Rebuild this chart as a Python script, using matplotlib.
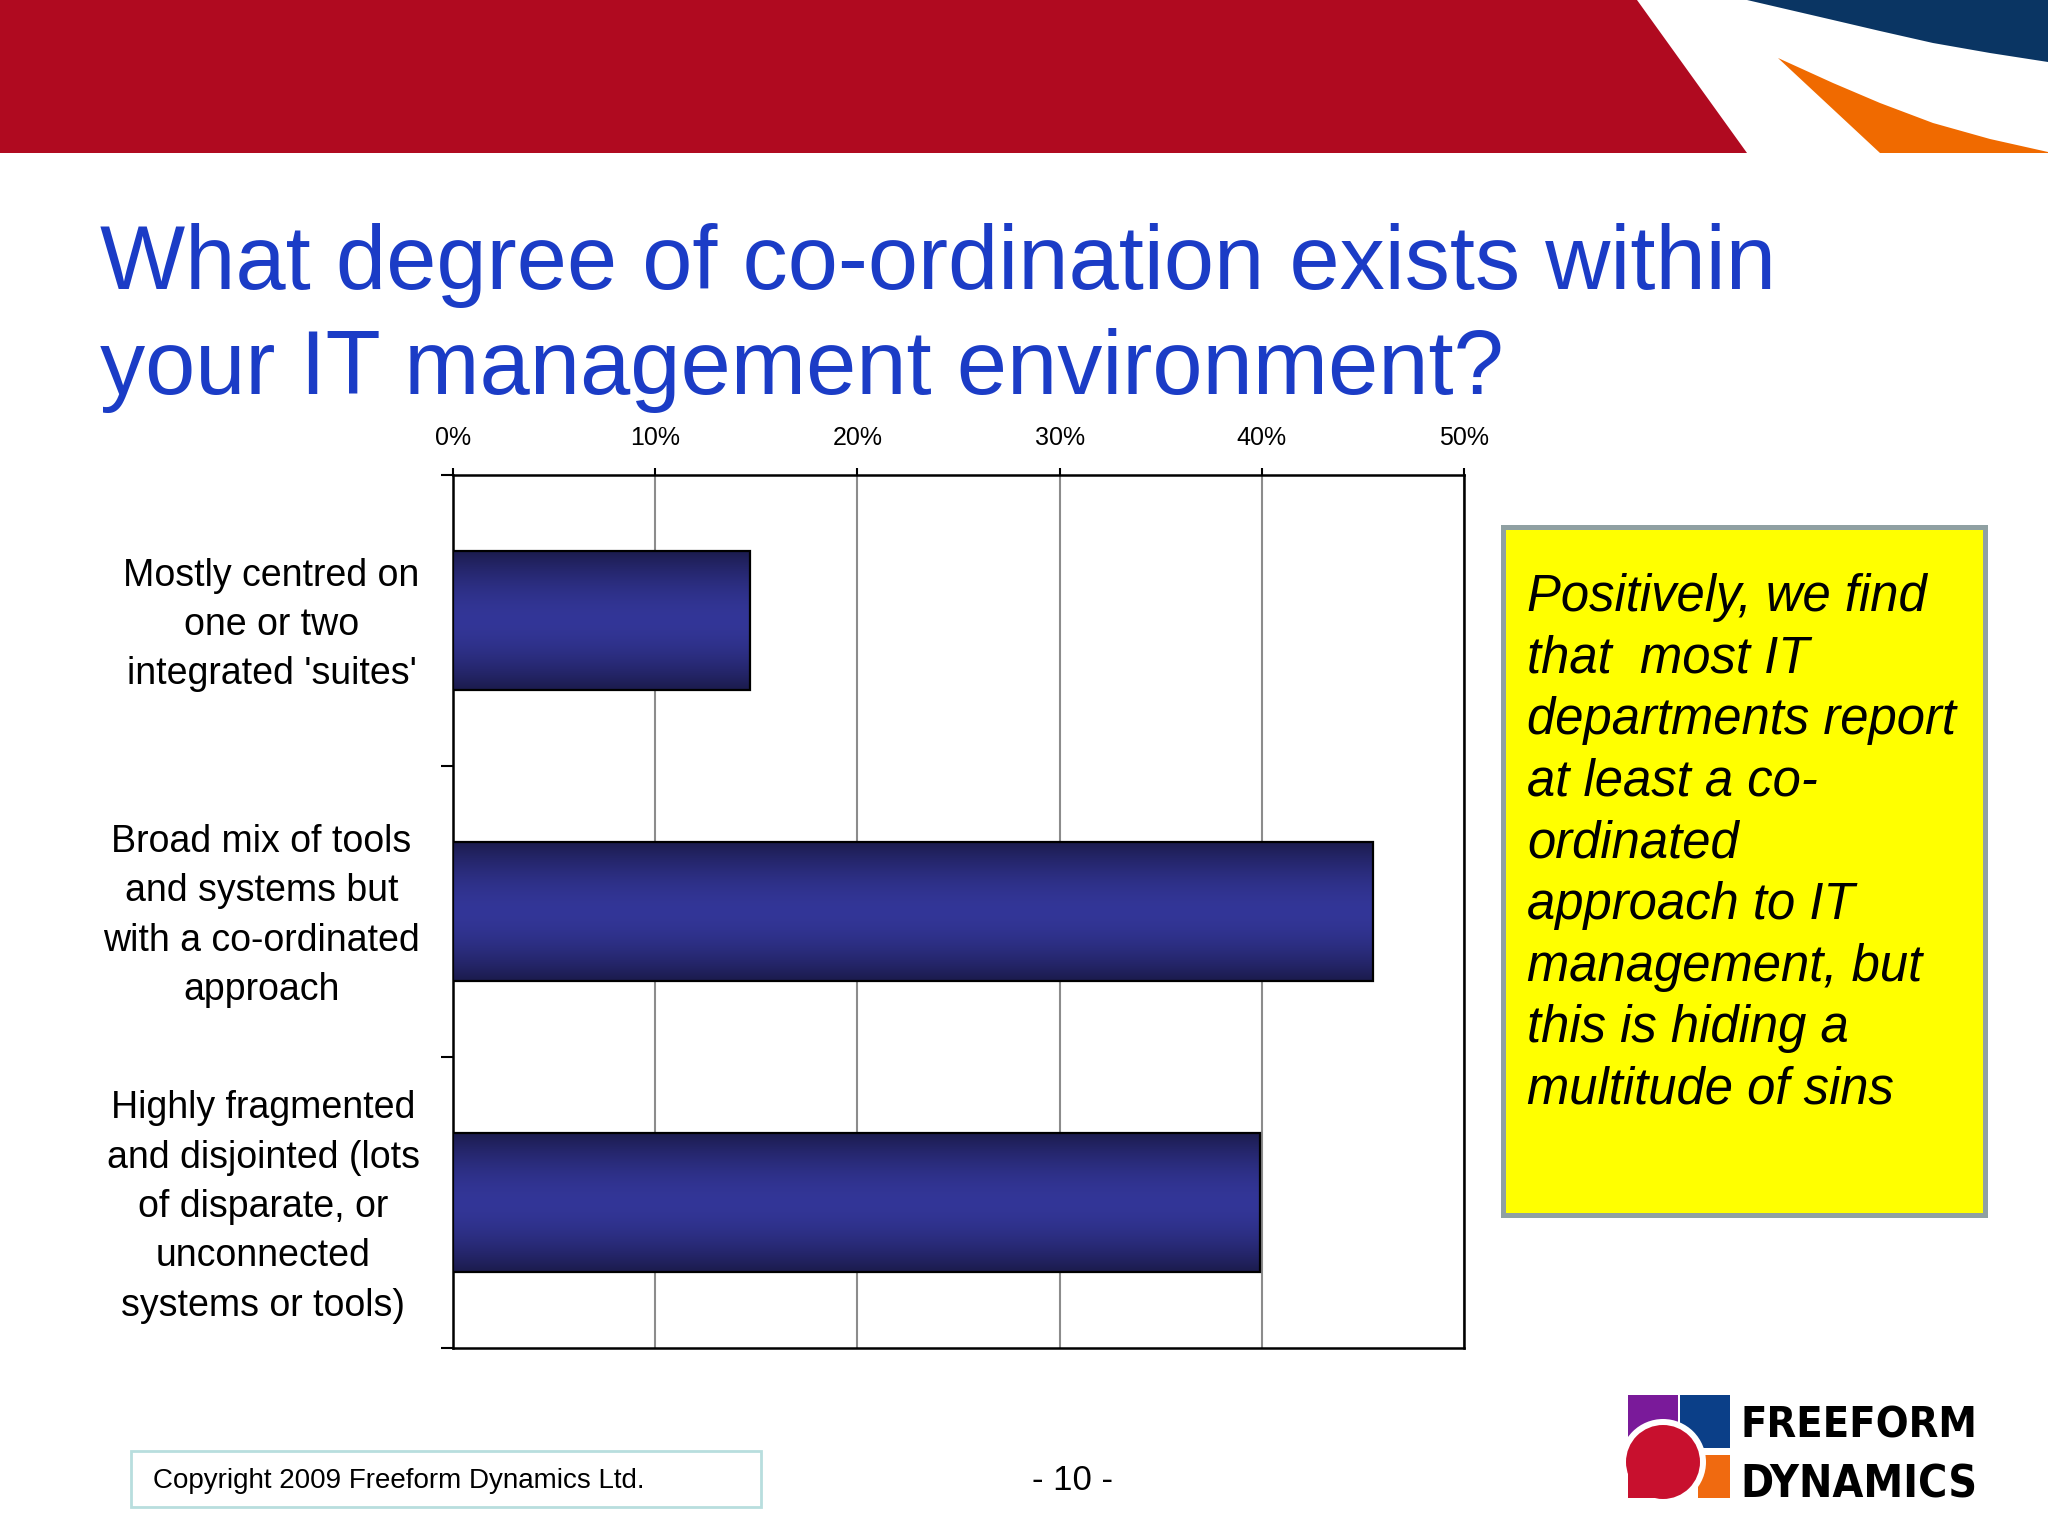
import numpy as np
import matplotlib
matplotlib.use("Agg")
import matplotlib.pyplot as plt
from matplotlib.patches import Polygon, Rectangle, Circle
from matplotlib.transforms import ScaledTranslation
from matplotlib import font_manager

# ---------------- data ----------------
categories = [
    "Mostly centred on\none or two\nintegrated 'suites'",
    "Broad mix of tools\nand systems but\nwith a co-ordinated\napproach",
    "Highly fragmented\nand disjointed (lots\nof disparate, or\nunconnected\nsystems or tools)",
]
values = [14.7, 45.5, 39.9]
xticks = [0, 10, 20, 30, 40, 50]
xtick_labels = ["0%", "10%", "20%", "30%", "40%", "50%"]
title = "What degree of co-ordination exists within\nyour IT management environment?"
note = ("Positively, we find\nthat  most IT\ndepartments report\nat least a co-\nordinated\n"
        "approach to IT\nmanagement, but\nthis is hiding a\nmultitude of sins")
copyright_text = "Copyright 2009 Freeform Dynamics Ltd."
page_text = "- 10 -"

plt.rcParams['font.family'] = ['Liberation Sans', 'DejaVu Sans']

W, H = 2048, 1536
fig = plt.figure(figsize=(20.48, 15.36), dpi=100)
fig.patch.set_facecolor('white')


def P(x, y):
    return (x / W, 1 - y / H)


def poly(pts, color, z=1):
    fig.patches.append(Polygon([P(*p) for p in pts], closed=True, transform=fig.transFigure,
                               facecolor=color, edgecolor='none', zorder=z))


# ---------------- banner ----------------
poly([(0, 0), (1637, 0), (1747, 153), (0, 153)], '#b00a20')
poly([(1747, 0), (1790, 10), (1833, 20), (1880, 31), (1933, 43), (1990, 53), (2048, 62), (2048, 0)], '#0a3563')
poly([(1778, 58), (1833, 83), (1880, 103), (1933, 123), (1990, 139), (2048, 152), (2048, 153), (1880, 153)], '#f06a00')

# ---------------- chart ----------------
ax = fig.add_axes([453 / W, 1 - 1348 / H, (1464 - 453) / W, (1348 - 475) / H])
ypos = np.arange(len(categories))
bars = ax.barh(ypos, values, height=0.48, facecolor='none', edgecolor='black', linewidth=1.6, zorder=3)

dark = np.array([0x1b, 0x1b, 0x4c]) / 255
light = np.array([0x33, 0x36, 0x98]) / 255
t = np.linspace(0, 1, 256)
d = np.abs(t - 0.5) * 2
mix = d ** 1.7
grad = (light[None, :] * (1 - mix[:, None]) + dark[None, :] * mix[:, None])[:, None, :]
for b in bars:
    im = ax.imshow(grad, extent=[b.get_x(), b.get_x() + b.get_width(),
                                 b.get_y() + b.get_height(), b.get_y()],
                   aspect='auto', zorder=2.8, interpolation='bilinear')
    im.set_clip_path(b)

ax.set_xlim(0, 50)
ax.set_ylim(2.5, -0.5)
ax.xaxis.tick_top()
ax.set_xticks(xticks)
ax.set_xticklabels(xtick_labels)
ax.tick_params(axis='x', which='major', top=True, bottom=False, length=5, width=1.5,
               direction='out', labelsize=18, pad=13, colors='black')
ax.grid(axis='x', color='#8c8c8c', linewidth=1.5, zorder=1)
ax.set_axisbelow(True)

ax.set_yticks(ypos)
ax.set_yticklabels(categories, fontsize=27, linespacing=1.48)
ax.tick_params(axis='y', which='major', length=0, pad=24)
shift = ScaledTranslation(0, 4.5 / 72, fig.dpi_scale_trans)
for lbl in ax.get_yticklabels():
    lbl.set_multialignment('center')
    lbl.set_transform(lbl.get_transform() + shift)
ax.set_yticks([-0.5, 0.5, 1.5, 2.5], minor=True)
ax.tick_params(axis='y', which='minor', length=9, width=1.5, direction='out')
for s in ax.spines.values():
    s.set_linewidth(1.8)
    s.set_color('black')

# ---------------- title ----------------
# va='baseline' on multi-line text anchors the last line's baseline
fig.text(100 / W, 1 - 394 / H, title, fontsize=65, color='#1b3cc6', va='baseline',
         ha='left', linespacing=1.31)

# ---------------- note box ----------------
fig.patches.append(Rectangle(P(1503, 1215), (1985 - 1503) / W, (1215 - 527) / H,
                             transform=fig.transFigure, facecolor='#ffff00',
                             edgecolor='#8fa0a2', linewidth=3.6, zorder=1))
fig.text(1527 / W, 1 - 1104 / H, note, fontsize=36.5, style='italic', va='baseline',
         ha='left', linespacing=1.333, color='black')

# ---------------- footer ----------------
fig.patches.append(Rectangle(P(131, 1507), (761 - 131) / W, (1507 - 1451) / H,
                             transform=fig.transFigure, facecolor='white',
                             edgecolor='#b8dede', linewidth=2, zorder=1))
fig.text(153 / W, 1 - 1481 / H, copyright_text, fontsize=20, va='center', ha='left')
fig.text(1072 / W, 1 - 1481 / H, page_text, fontsize=25, va='center', ha='center')

# ---------------- logo ----------------
fig.patches.append(Rectangle(P(1628, 1442), 50 / W, 47 / H, transform=fig.transFigure,
                             facecolor='#7a1a9a', edgecolor='none', zorder=1))
fig.patches.append(Rectangle(P(1680, 1448), 50 / W, 53 / H, transform=fig.transFigure,
                             facecolor='#0b3f88', edgecolor='none', zorder=1))
fig.patches.append(Rectangle(P(1698, 1498), 32 / W, 43 / H, transform=fig.transFigure,
                             facecolor='#f06a10', edgecolor='none', zorder=1))
fig.patches.append(Rectangle(P(1628, 1498), 36 / W, 36 / H, transform=fig.transFigure,
                             facecolor='#c8102e', edgecolor='none', zorder=2))
cx, cy = P(1663, 1462)
fig.patches.append(Circle((cx * W, cy * H), 43, transform=None, facecolor='white',
                          edgecolor='none', zorder=1.5))
fig.patches.append(Circle((cx * W, cy * H), 37, transform=None, facecolor='#c8102e',
                          edgecolor='none', zorder=2))

names = {f.name for f in font_manager.fontManager.ttflist}
logo_font = 'Liberation Sans Narrow' if 'Liberation Sans Narrow' in names else 'DejaVu Sans'
t1 = fig.text(1740 / W, 1 - 1438 / H, "FREEFORM", fontsize=40, fontweight='bold',
              family=logo_font, stretch='condensed', va='baseline', ha='left')
t2 = fig.text(1740 / W, 1 - 1498 / H, "DYNAMICS", fontsize=40, fontweight='bold',
              family=logo_font, stretch='condensed', va='baseline', ha='left')
fig.canvas.draw()
r = fig.canvas.get_renderer()
for tt in (t1, t2):
    w = tt.get_window_extent(r).width
    tt.set_fontsize(40 * 237 / w)

fig.savefig('out.png', dpi=100, facecolor='white')
